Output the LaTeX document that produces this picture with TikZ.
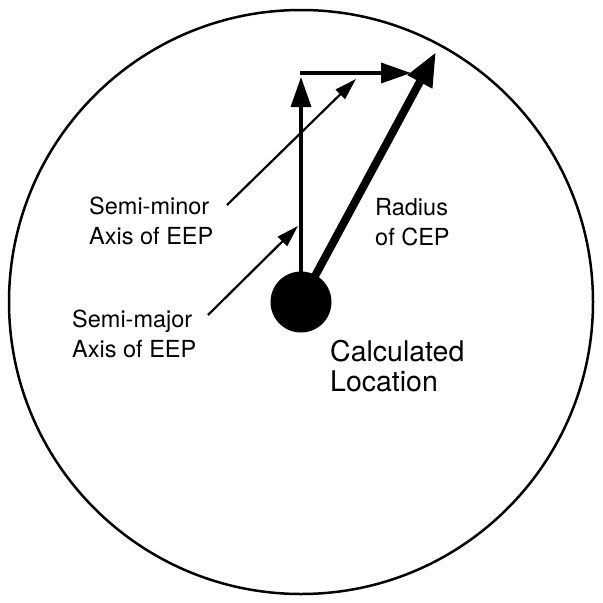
\documentclass[tikz,border=0pt]{standalone}
\usepackage{fontspec}
\setmainfont{TeX Gyre Heros}
\usetikzlibrary{arrows.meta}
\begin{document}
\begin{tikzpicture}[x=1pt,y=-1pt,
  lbl/.style={inner sep=0pt, anchor=base west, align=left, font=\fontsize{23.5}{30}\selectfont},
  biglbl/.style={inner sep=0pt, anchor=base west, align=left, font=\fontsize{28.5}{30}\selectfont},
  thinarrow/.style={line width=2.2pt, -{Triangle[length=22pt,width=13pt]}},
  midarrow/.style={line width=3.5pt, -{Triangle[length=30pt,width=20pt]}},
  thickarrow/.style={line width=8pt, -{Triangle[length=34pt,width=26pt]}}]
\useasboundingbox (0,0) rectangle (603,603);
\node (ring) [draw, line width=2.5pt, circle, minimum size=584pt, inner sep=0pt] at (301,302) {};
\coordinate (c) at (301,302);
\coordinate (vtop) at (301,77);
\coordinate (hstart) at (300,73);
\coordinate (htip) at (411,73);
\coordinate (rtip) at (436,52);
\coordinate (mintail) at (227,205);
\coordinate (mintip) at (356,79);
\coordinate (majtail) at (208,315);
\coordinate (majtip) at (298,226);
\draw[midarrow] (c) -- (vtop);
\draw[midarrow] (hstart) -- (htip);
\draw[thickarrow] (c) -- (rtip);
\draw[thinarrow] (mintail) -- (mintip);
\draw[thinarrow] (majtail) -- (majtip);
\node (dot) [fill, circle, minimum size=61pt, inner sep=0pt] at (c) {};
\node (minor) [lbl] at (89,244) {Semi-minor\\Axis of EEP};
\node (major) [lbl] at (72,357) {Semi-major\\Axis of EEP};
\node (radius) [lbl] at (375,245) {Radius\\of CEP};
\node (calc) [biglbl] at (330,391) {Calculated\\Location};
\end{tikzpicture}
\end{document}
